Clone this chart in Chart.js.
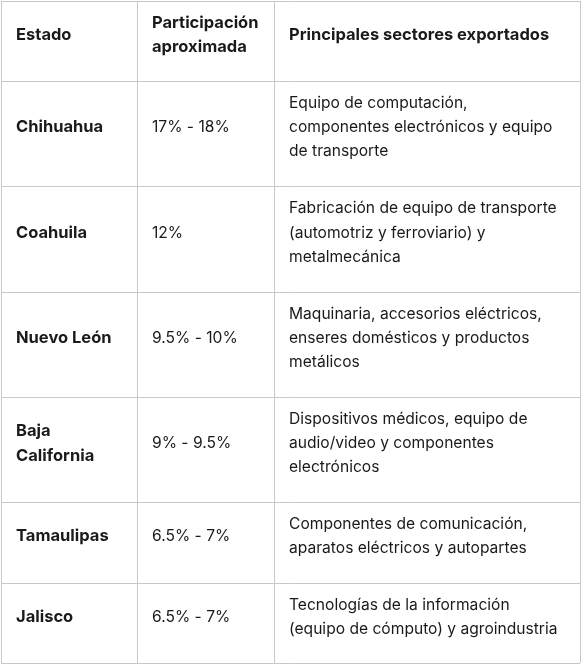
<!DOCTYPE html>
<html>
<head>
<meta charset="utf-8">
<script src="https://cdn.jsdelivr.net/npm/chart.js"></script>
<style>
  html, body { margin: 0; padding: 0; background: #fff; }
  #wrap { width: 583px; height: 667px; }
</style>
</head>
<body>
<div id="wrap"><canvas id="tableChart"></canvas></div>
<script>
// table content
const headers = ['Estado', 'Participación\naproximada', 'Principales sectores exportados'];
const estados = ['Chihuahua', 'Coahuila', 'Nuevo León', 'Baja\nCalifornia', 'Tamaulipas', 'Jalisco'];
const participacion = ['17% - 18%', '12%', '9.5% - 10%', '9% - 9.5%', '6.5% - 7%', '6.5% - 7%'];
const sectores = [
    'Equipo de computación,\ncomponentes electrónicos y equipo\nde transporte',
    'Fabricación de equipo de transporte\n(automotriz y ferroviario) y\nmetalmecánica',
    'Maquinaria, accesorios eléctricos,\nenseres domésticos y productos\nmetálicos',
    'Dispositivos médicos, equipo de\naudio/video y componentes\nelectrónicos',
    'Componentes de comunicación,\naparatos eléctricos y autopartes',
    'Tecnologías de la información\n(equipo de cómputo) y agroindustria'
];

// grid lines, in page units (x: 0-583, y: 0-667 from top)
const colEdges = [1, 137, 274, 580];
const rowEdges = [1, 81, 186, 292, 397, 502, 583, 663];

const tablePlugin = {
    id: 'tablePlugin',
    afterDraw(chart) {
        const ctx = chart.ctx;
        const sx = chart.scales.x, sy = chart.scales.y;
        const px = v => sx.getPixelForValue(v);
        const py = v => sy.getPixelForValue(v);

        ctx.save();
        ctx.strokeStyle = '#c8c8c8';
        ctx.lineWidth = 1;
        colEdges.forEach(c => {
            ctx.beginPath();
            ctx.moveTo(Math.round(px(c)) + 0.5, py(rowEdges[0]));
            ctx.lineTo(Math.round(px(c)) + 0.5, py(rowEdges[rowEdges.length - 1]));
            ctx.stroke();
        });
        rowEdges.forEach(r => {
            ctx.beginPath();
            ctx.moveTo(px(colEdges[0]), Math.round(py(r)) + 0.5);
            ctx.lineTo(px(colEdges[colEdges.length - 1]), Math.round(py(r)) + 0.5);
            ctx.stroke();
        });

        ctx.fillStyle = '#1a1a1a';
        ctx.textBaseline = 'middle';
        const lineH = 24.3;
        function cell(text, col, row, bold) {
            const lines = text.split('\n');
            const mid = (py(rowEdges[row]) + py(rowEdges[row + 1])) / 2 - 6;
            const x = px(colEdges[col]) + 15;
            ctx.font = bold ? 'bold 16.5px Inter' : '15.6px Inter';
            lines.forEach((l, i) => {
                ctx.fillText(l, x, mid + (i - (lines.length - 1) / 2) * lineH);
            });
        }
        headers.forEach((h, i) => cell(h, i, 0, true));
        estados.forEach((e, i) => {
            cell(e, 0, i + 1, true);
            cell(participacion[i], 1, i + 1, false);
            cell(sectores[i], 2, i + 1, false);
        });
        ctx.restore();
    }
};

new Chart(document.getElementById('tableChart').getContext('2d'), {
    type: 'scatter',
    data: { datasets: [{ data: [] }] },
    options: {
        responsive: true,
        maintainAspectRatio: false,
        animation: false,
        layout: { padding: 0 },
        plugins: { legend: { display: false }, tooltip: { enabled: false } },
        scales: {
            x: { type: 'linear', min: 0, max: 583, display: false },
            y: { type: 'linear', min: 0, max: 667, reverse: true, display: false }
        }
    },
    plugins: [tablePlugin]
});
</script>
</body>
</html>
